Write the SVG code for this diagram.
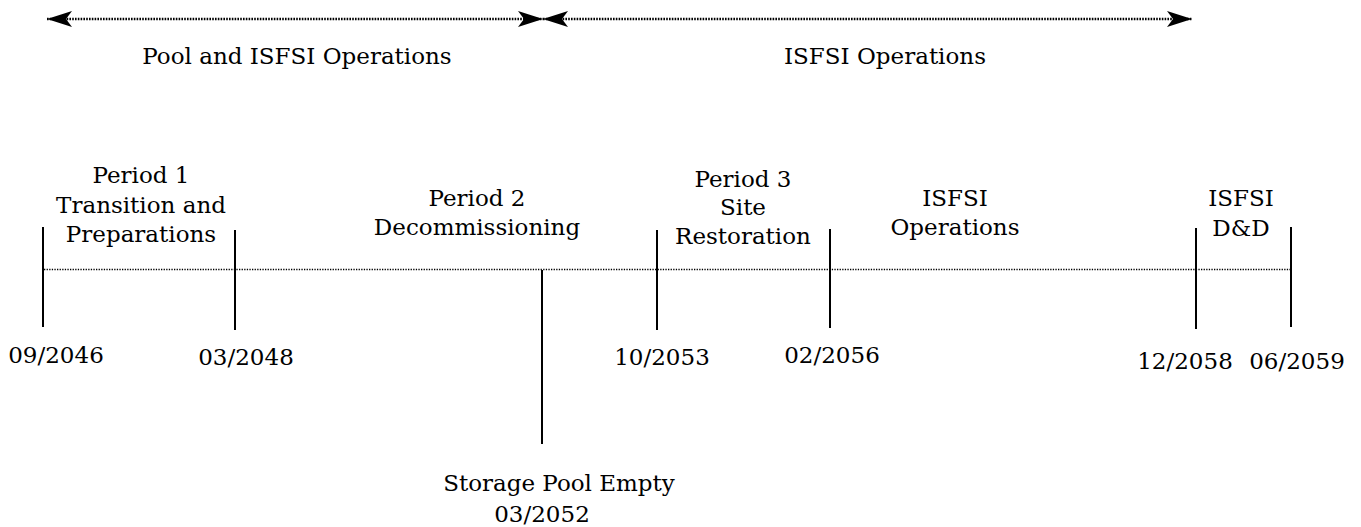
<svg xmlns="http://www.w3.org/2000/svg" width="1361" height="527" viewBox="0 0 1361 527">
  <style>
    text { font-family: "DejaVu Serif", "Liberation Serif", serif; font-size: 23px; fill: #000; text-anchor: middle; }
    .tick { stroke: #000; stroke-width: 2; fill: none; }
    .axis { stroke: #000; stroke-width: 1.3; stroke-dasharray: 1.3 1.3; fill: none; }
    .span { stroke: #000; stroke-width: 2.4; stroke-dasharray: 1.6 1.2; fill: none; }
  </style>
  <defs>
    <marker id="barb" viewBox="0 0 25 16" refX="25" refY="8" markerWidth="25" markerHeight="16" markerUnits="userSpaceOnUse" orient="auto-start-reverse">
      <path d="M0,0 L25,8 L0,16 L6,8 Z" fill="#000"/>
    </marker>
  </defs>

  <!-- operating spans along the top, and the time axis -->
  <g id="connectors">
    <line class="span" x1="47" y1="19" x2="543" y2="19" marker-start="url(#barb)" marker-end="url(#barb)"/>
    <line class="span" x1="543" y1="19" x2="1192" y2="19" marker-start="url(#barb)" marker-end="url(#barb)"/>
    <line class="axis" x1="44" y1="269.5" x2="1290" y2="269.5"/>
  </g>

  <g id="span-pool">
    <text x="297" y="64">Pool and ISFSI Operations</text>
  </g>
  <g id="span-isfsi">
    <text x="885" y="64">ISFSI Operations</text>
  </g>

  <!-- milestones -->
  <g id="m-2046">
    <line class="tick" x1="43" y1="227" x2="43" y2="327"/>
    <text x="56" y="363">09/2046</text>
  </g>
  <g id="m-2048">
    <line class="tick" x1="235" y1="230" x2="235" y2="330"/>
    <text x="246" y="365">03/2048</text>
  </g>
  <g id="m-2052">
    <line class="tick" x1="542" y1="270" x2="542" y2="444"/>
    <text x="559" y="491">Storage Pool Empty</text>
    <text x="542" y="522">03/2052</text>
  </g>
  <g id="m-2053">
    <line class="tick" x1="657" y1="230" x2="657" y2="330"/>
    <text x="662" y="365">10/2053</text>
  </g>
  <g id="m-2056">
    <line class="tick" x1="830" y1="229" x2="830" y2="328"/>
    <text x="832" y="363">02/2056</text>
  </g>
  <g id="m-2058">
    <line class="tick" x1="1196" y1="228" x2="1196" y2="329"/>
    <text x="1185" y="369">12/2058</text>
  </g>
  <g id="m-2059">
    <line class="tick" x1="1291" y1="227" x2="1291" y2="327"/>
    <text x="1297" y="369">06/2059</text>
  </g>

  <!-- period labels -->
  <g id="period-1">
    <text x="141" y="183">Period 1</text>
    <text x="141" y="213">Transition and</text>
    <text x="141" y="242">Preparations</text>
  </g>
  <g id="period-2">
    <text x="477" y="206">Period 2</text>
    <text x="477" y="235">Decommissioning</text>
  </g>
  <g id="period-3">
    <text x="743" y="187">Period 3</text>
    <text x="743" y="215">Site</text>
    <text x="743" y="244">Restoration</text>
  </g>
  <g id="isfsi-ops">
    <text x="955" y="206">ISFSI</text>
    <text x="955" y="235">Operations</text>
  </g>
  <g id="isfsi-dd">
    <text x="1241" y="206">ISFSI</text>
    <text x="1241" y="236">D&amp;D</text>
  </g>
</svg>
